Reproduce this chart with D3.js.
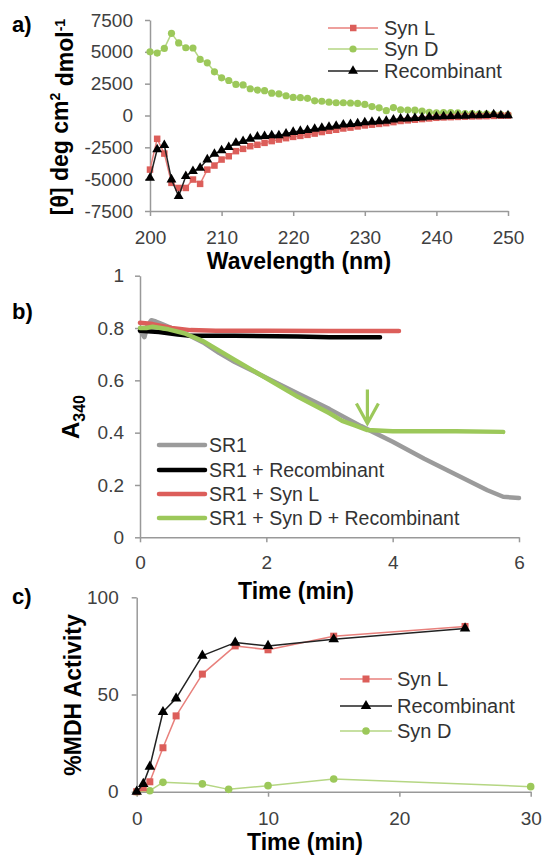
<!DOCTYPE html>
<html>
<head>
<meta charset="utf-8">
<script src="https://cdn.jsdelivr.net/npm/d3@7"></script>
<style>
body { margin: 0; background: #fff; }
text { font-family: "Liberation Sans", Arial, sans-serif; }
</style>
</head>
<body>
<script>
// ---- panel a: CD spectra ----
var wavelength = [200,201,202,203,204,205,206,207,208,209,210,211,212,213,214,215,216,217,218,219,
                  220,221,222,223,224,225,226,227,228,229,230,231,232,233,234,235,236,237,238,239,
                  240,241,242,243,244,245,246,247,248,249,250];
var synL_cd = [-4250,-1830,-2990,-5290,-5690,-5690,-5030,-5370,-4250,-3930,-3460,-3200,-2800,-2620,-2410,-2300,-2150,-2010,-1890,-1780,
               -1680,-1600,-1520,-1420,-1300,-1200,-1120,-1020,-950,-860,-780,-720,-660,-600,-520,-430,-380,-330,-280,-230,
               -180,-150,-130,-110,-90,-70,-60,-50,-30,-20,-10];
var synD_cd = [5000,4900,5270,6450,5700,5320,5300,4400,4140,3430,2960,2750,2440,2400,2100,2000,1950,1750,1700,1550,
               1420,1400,1350,1150,1120,1050,1000,1000,980,950,870,700,600,380,620,450,430,420,350,250,
               200,220,230,200,150,150,120,130,100,80,50];
var recomb_cd = [-4900,-2670,-2330,-5030,-6340,-4770,-4380,-4110,-3460,-3010,-2750,-2490,-2150,-2020,-1830,-1670,-1620,-1560,-1560,-1420,
                 -1300,-1220,-1150,-1060,-980,-900,-820,-720,-680,-620,-540,-500,-470,-430,-320,-250,-240,-200,-160,-120,
                 -100,-80,-60,-40,-30,0,0,20,80,10,0];
var cdTicksX = [200,210,220,230,240,250];
var cdTicksY = [-7500,-5000,-2500,0,2500,5000,7500];

// ---- panel b: A340 traces ----
var sr1_t = [0,0.03,0.07,0.12,0.18,0.25,0.35,0.5,0.75,1.0,1.25,1.5,2.0,2.5,3.0,3.5,4.0,4.5,5.0,5.5,5.75,6.0];
var sr1_a = [0.79,0.78,0.765,0.81,0.83,0.825,0.815,0.80,0.775,0.745,0.705,0.67,0.61,0.55,0.49,0.425,0.365,0.30,0.24,0.18,0.155,0.15];
var rec_t = [0,0.3,0.6,0.8,1.5,2.5,3.0,3.8];
var rec_a = [0.79,0.785,0.775,0.77,0.77,0.768,0.765,0.765];
var synL_t = [0,0.2,0.5,0.8,1.2,2.0,3.0,4.1];
var synL_a = [0.82,0.815,0.80,0.792,0.79,0.79,0.789,0.789];
var synDR_t = [0,0.1,0.2,0.45,0.7,1.0,1.5,2.0,2.5,3.0,3.2,3.4,3.6,4.0,5.0,5.75];
var synDR_a = [0.80,0.80,0.805,0.795,0.78,0.75,0.678,0.608,0.537,0.474,0.445,0.428,0.41,0.405,0.405,0.403];
var absTicksX = [0,2,4,6];
var absTicksY = [0,0.2,0.4,0.6,0.8,1];

// ---- panel c: MDH activity ----
var synL_mt = [0,0.5,1,2,3,5,7.5,10,15,25];
var synL_mdh = [0,2,5.1,22.6,39,60.5,75,73,80,85];
var rec_mt = [0,0.5,1,2,3,5,7.5,10,15,25];
var rec_mdh = [0,4,12.9,41,48,70,76.7,75,78.4,84];
var synD_mt = [0,1,2,5,7,10,15,30];
var synD_mdh = [0,0.5,4.8,4,1.2,3.1,6.5,2.6];
var mdhTicksX = [0,10,20,30];
var mdhTicksY = [0,50,100];

var red = "#dc5e5a", redLine = "#e8807c", green = "#9cc85a", greenLine = "#b5d683", gray = "#9b9b9b";

var svg = d3.select("body").append("svg").attr("width", 543).attr("height", 855);

function styleAxis(g) {
  g.select(".domain").attr("stroke", "#999").attr("stroke-width", 1.5);
  g.selectAll(".tick line").attr("stroke", "#999").attr("stroke-width", 1.5);
  g.selectAll(".tick text").attr("fill", "#404040").attr("font-size", "19px")
    .attr("font-family", "'Liberation Sans', Arial, sans-serif");
}
function num(d) { return String(d); }

function squares(g, xs, ys, xS, yS, col, s) {
  g.selectAll(null).data(ys).enter().append("rect")
    .attr("x", function(d, i) { return xS(xs[i]) - s / 2; })
    .attr("y", function(d) { return yS(d) - s / 2; })
    .attr("width", s).attr("height", s).attr("fill", col);
}
function dots(g, xs, ys, xS, yS, col, r) {
  g.selectAll(null).data(ys).enter().append("circle")
    .attr("cx", function(d, i) { return xS(xs[i]); })
    .attr("cy", function(d) { return yS(d); })
    .attr("r", r).attr("fill", col);
}
function tris(g, xs, ys, xS, yS, col, sz) {
  var sym = d3.symbol().type(d3.symbolTriangle).size(sz);
  g.selectAll(null).data(ys).enter().append("path")
    .attr("d", sym)
    .attr("transform", function(d, i) { return "translate(" + xS(xs[i]) + "," + yS(d) + ")"; })
    .attr("fill", col);
}
function line(g, xs, ys, xS, yS, col, w) {
  var l = d3.line().x(function(d, i) { return xS(xs[i]); }).y(function(d) { return yS(d); });
  g.append("path").datum(ys).attr("d", l).attr("fill", "none")
    .attr("stroke", col).attr("stroke-width", w)
    .attr("stroke-linejoin", "round").attr("stroke-linecap", "round");
}
function label(x, y, t) {
  svg.append("text").attr("x", x).attr("y", y).text(t)
    .attr("font-size", "22px").attr("font-weight", "bold").attr("fill", "#000");
}
function title(x, y, t, rot) {
  var tx = svg.append("text").attr("text-anchor", "middle").attr("font-weight", "bold")
    .attr("font-size", "23px").attr("fill", "#000");
  if (rot) tx.attr("transform", "translate(" + x + "," + y + ") rotate(-90)").attr("dy", "0.35em");
  else tx.attr("x", x).attr("y", y);
  return tx.text(t);
}

// ================= panel a =================
var xa = d3.scaleLinear().domain([200, 250]).range([150, 508]);
var ya = d3.scaleLinear().domain([-7500, 7500]).range([211, 20]);

svg.append("g").attr("transform", "translate(0," + ya(-7500) + ")")
  .call(d3.axisBottom(xa).tickValues(cdTicksX).tickSize(5).tickSizeOuter(0).tickPadding(15).tickFormat(num))
  .call(styleAxis);
svg.append("g").attr("transform", "translate(" + xa(200) + ",0)")
  .call(d3.axisLeft(ya).tickValues(cdTicksY).tickSize(5).tickSizeOuter(0).tickPadding(12).tickFormat(num))
  .call(styleAxis);

var ga = svg.append("g");
line(ga, wavelength, synD_cd, xa, ya, greenLine, 1.5);
dots(ga, wavelength, synD_cd, xa, ya, green, 3.6);
line(ga, wavelength, synL_cd, xa, ya, redLine, 1.5);
squares(ga, wavelength, synL_cd, xa, ya, red, 6.5);
line(ga, wavelength, recomb_cd, xa, ya, "#222", 1.5);
tris(ga, wavelength, recomb_cd, xa, ya, "#000", 42);

label(12, 32, "a)");
title(299, 269, "Wavelength (nm)", false);
var yta = title(60, 117, "", true);
yta.append("tspan").text("[\u03b8] deg cm");
yta.append("tspan").text("2").attr("font-size", "14px").attr("dy", "-0.55em");
yta.append("tspan").text(" dmol").attr("dy", "0.55em");
yta.append("tspan").text("-1").attr("font-size", "14px").attr("dy", "-0.55em");

// legend a
var legA = [
  { name: "Syn L", col: redLine, mk: "sq", mcol: red },
  { name: "Syn D", col: greenLine, mk: "dot", mcol: green },
  { name: "Recombinant", col: "#222", mk: "tri", mcol: "#000" }
];
var legAy = [28, 49, 71];
legA.forEach(function(d, i) {
  var y = legAy[i];
  svg.append("line").attr("x1", 328).attr("x2", 378).attr("y1", y).attr("y2", y)
    .attr("stroke", d.col).attr("stroke-width", 1.5);
  if (d.mk === "sq") svg.append("rect").attr("x", 350).attr("y", y - 3.25).attr("width", 6.5).attr("height", 6.5).attr("fill", d.mcol);
  if (d.mk === "dot") svg.append("circle").attr("cx", 353).attr("cy", y).attr("r", 3.6).attr("fill", d.mcol);
  if (d.mk === "tri") svg.append("path").attr("d", d3.symbol().type(d3.symbolTriangle).size(42)).attr("transform", "translate(353," + y + ")").attr("fill", d.mcol);
  svg.append("text").attr("x", 384).attr("y", y).attr("dy", "0.35em").text(d.name)
    .attr("font-size", "20px").attr("fill", "#333");
});

// ================= panel b =================
var xb = d3.scaleLinear().domain([0, 6]).range([140, 519]);
var yb = d3.scaleLinear().domain([0, 1]).range([537.3, 275.7]);

svg.append("g").attr("transform", "translate(0," + yb(0) + ")")
  .call(d3.axisBottom(xb).tickValues(absTicksX).tickSize(5).tickSizeOuter(0).tickPadding(13).tickFormat(num))
  .call(styleAxis);
svg.append("g").attr("transform", "translate(" + xb(0) + ",0)")
  .call(d3.axisLeft(yb).tickValues(absTicksY).tickSize(5).tickSizeOuter(0).tickPadding(11).tickFormat(num))
  .call(styleAxis);

var gb = svg.append("g");
line(gb, sr1_t, sr1_a, xb, yb, gray, 4.5);
line(gb, rec_t, rec_a, xb, yb, "#000", 4.5);
line(gb, synL_t, synL_a, xb, yb, red, 4.5);
line(gb, synDR_t, synDR_a, xb, yb, green, 4.5);

// arrow marking where Syn D + Recombinant stops
var arrowT = 3.6, arrowFrom = 0.565, arrowTo = 0.435;
gb.append("path")
  .attr("d", "M" + xb(arrowT) + "," + yb(arrowFrom) + "V" + yb(arrowTo) +
             "M" + (xb(arrowT) - 11) + "," + (yb(arrowTo) - 20) + "L" + xb(arrowT) + "," + yb(arrowTo) +
             "L" + (xb(arrowT) + 11) + "," + (yb(arrowTo) - 20))
  .attr("fill", "none").attr("stroke", green).attr("stroke-width", 3.2)
  .attr("stroke-linejoin", "miter");

label(12, 319, "b)");
title(296, 599, "Time (min)", false);
var ytb = svg.append("text").attr("transform", "translate(73,417) rotate(-90)")
  .attr("text-anchor", "middle").attr("dy", "0.35em").attr("font-weight", "bold").attr("fill", "#000");
ytb.append("tspan").text("A").attr("font-size", "24px");
ytb.append("tspan").text("340").attr("font-size", "16px").attr("dy", "0.4em");

var legB = [
  { name: "SR1", col: gray },
  { name: "SR1 + Recombinant", col: "#000" },
  { name: "SR1 + Syn L", col: red },
  { name: "SR1 + Syn D + Recombinant", col: green }
];
var legBy = [445, 470, 494, 518];
legB.forEach(function(d, i) {
  var y = legBy[i];
  svg.append("line").attr("x1", 159).attr("x2", 205).attr("y1", y).attr("y2", y)
    .attr("stroke", d.col).attr("stroke-width", 4.5).attr("stroke-linecap", "round");
  svg.append("text").attr("x", 209).attr("y", y).attr("dy", "0.35em").text(d.name)
    .attr("font-size", "19.5px").attr("fill", "#333");
});

// ================= panel c =================
var xc = d3.scaleLinear().domain([0, 30]).range([136.7, 530.7]);
var yc = d3.scaleLinear().domain([0, 100]).range([791.7, 597.3]);

svg.append("g").attr("transform", "translate(0," + yc(0) + ")")
  .call(d3.axisBottom(xc).tickValues(mdhTicksX).tickSize(5).tickSizeOuter(0).tickPadding(15).tickFormat(num))
  .call(styleAxis);
svg.append("g").attr("transform", "translate(" + xc(0) + ",0)")
  .call(d3.axisLeft(yc).tickValues(mdhTicksY).tickSize(5).tickSizeOuter(0).tickPadding(13).tickFormat(num))
  .call(styleAxis);

var gc = svg.append("g");
line(gc, synD_mt, synD_mdh, xc, yc, greenLine, 1.5);
dots(gc, synD_mt, synD_mdh, xc, yc, green, 3.8);
line(gc, synL_mt, synL_mdh, xc, yc, redLine, 1.5);
squares(gc, synL_mt, synL_mdh, xc, yc, red, 7);
line(gc, rec_mt, rec_mdh, xc, yc, "#222", 1.5);
tris(gc, rec_mt, rec_mdh, xc, yc, "#000", 48);

label(12, 604, "c)");
title(305, 850, "Time (min)", false);
title(73, 695, "%MDH Activity", true);

var legC = [
  { name: "Syn L", col: redLine, mk: "sq", mcol: red },
  { name: "Recombinant", col: "#222", mk: "tri", mcol: "#000" },
  { name: "Syn D", col: greenLine, mk: "dot", mcol: green }
];
var legCy = [679, 706, 731];
legC.forEach(function(d, i) {
  var y = legCy[i];
  svg.append("line").attr("x1", 340).attr("x2", 392).attr("y1", y).attr("y2", y)
    .attr("stroke", d.col).attr("stroke-width", 1.5);
  if (d.mk === "sq") svg.append("rect").attr("x", 362.5).attr("y", y - 3.5).attr("width", 7).attr("height", 7).attr("fill", d.mcol);
  if (d.mk === "dot") svg.append("circle").attr("cx", 366).attr("cy", y).attr("r", 3.8).attr("fill", d.mcol);
  if (d.mk === "tri") svg.append("path").attr("d", d3.symbol().type(d3.symbolTriangle).size(48)).attr("transform", "translate(366," + y + ")").attr("fill", d.mcol);
  svg.append("text").attr("x", 397).attr("y", y).attr("dy", "0.35em").text(d.name)
    .attr("font-size", "20px").attr("fill", "#333");
});
</script>
</body>
</html>
